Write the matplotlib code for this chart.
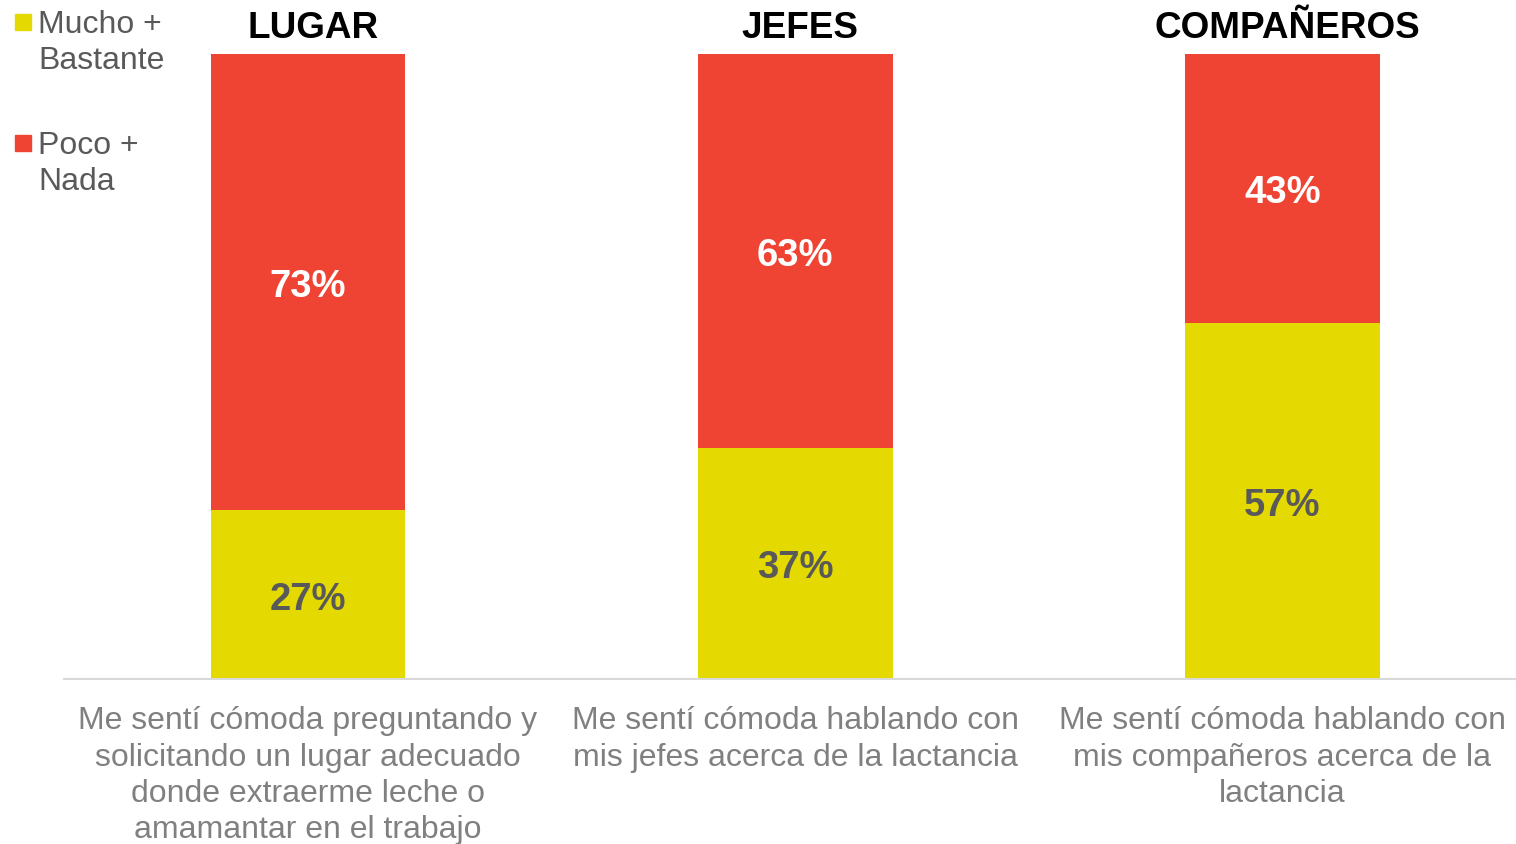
import matplotlib
matplotlib.use("Agg")
import matplotlib.pyplot as plt
from matplotlib.patches import Rectangle
import numpy as np

plt.rcParams['font.family'] = ['Liberation Sans', 'DejaVu Sans']

categories = [
    "Me sentí cómoda preguntando y\nsolicitando un lugar adecuado\ndonde extraerme leche o\namamantar en el trabajo",
    "Me sentí cómoda hablando con\nmis jefes acerca de la lactancia",
    "Me sentí cómoda hablando con\nmis compañeros acerca de la\nlactancia",
]
titles = ["LUGAR", "JEFES", "COMPAÑEROS"]
mucho_bastante = [27, 37, 57]
poco_nada = [73, 63, 43]
series_labels = ["Mucho +\nBastante", "Poco +\nNada"]

YELLOW = "#E4D900"
RED = "#EF4433"
DARK = "#595959"
TICK = "#808080"

fig = plt.figure(figsize=(15.16, 8.44), dpi=100)
ax = fig.add_axes([64/1516, 165/844, 1452/1516, 625/844])

x = np.arange(len(categories))
b1 = ax.bar(x, mucho_bastante, width=0.4, color=YELLOW)
b2 = ax.bar(x, poco_nada, width=0.4, bottom=mucho_bastante, color=RED)

anns = ax.bar_label(b1, labels=[f"{v}%" for v in mucho_bastante], label_type='center',
                    color=DARK, fontsize=27.5, fontweight='bold')
anns += ax.bar_label(b2, labels=[f"{v}%" for v in poco_nada], label_type='center',
                     color='white', fontsize=27.5, fontweight='bold')
for a in anns:
    a.xyann = (0, -3.6)

for xi, t in zip(x, titles):
    ax.text(xi + 0.01, 102.6, t, ha='center', va='baseline', fontsize=26.6,
            fontweight='bold', color='black', clip_on=False)

ax.set_xlim(-0.501, 2.48)
ax.set_ylim(0, 100)
ax.set_xticks(x)
ax.set_xticklabels(categories, fontsize=23, color=TICK, linespacing=1.28)
ax.tick_params(axis='x', length=0, pad=19.5)
ax.set_yticks([])
for s in ['top', 'right', 'left']:
    ax.spines[s].set_visible(False)
ax.spines['bottom'].set_color('#D9D9D9')
ax.spines['bottom'].set_linewidth(1.5)

# legend (manual, marker aligned with first text line)
colors = [YELLOW, RED]
ys = [22, 143]
for lab, c, yy in zip(series_labels, colors, ys):
    fig.patches.append(Rectangle((15/1516, 1 - (yy + 8)/844), 16/1516, 16/844,
                                 transform=fig.transFigure, color=c))
    fig.text(38/1516, 1 - (yy - 12)/844, lab, ha='left', va='top', fontsize=23,
             color=DARK, linespacing=1.28)

fig.savefig("out.png", dpi=100)
